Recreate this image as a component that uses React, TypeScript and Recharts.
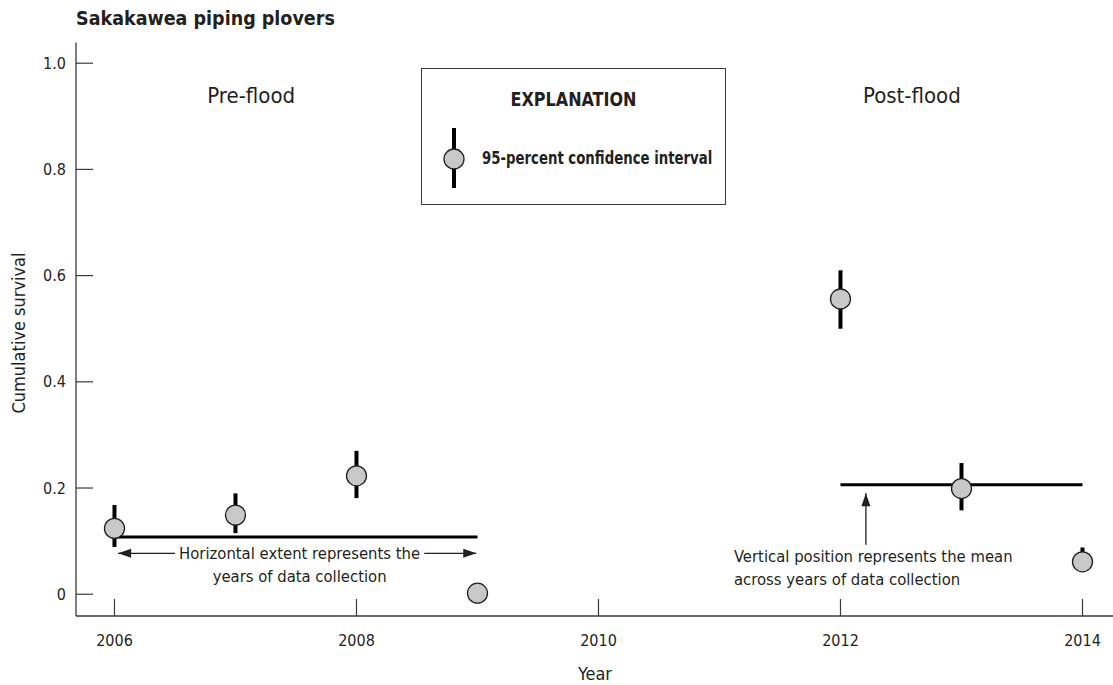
import React from "react"
import {
  ComposedChart,
  Scatter,
  ErrorBar,
  XAxis,
  YAxis,
  ReferenceLine,
  ReferenceDot,
  Legend,
} from "recharts"

// survival estimates
const years = [2006, 2007, 2008, 2009, 2012, 2013, 2014]
const survival = [0.124, 0.149, 0.223, 0.002, 0.556, 0.199, 0.061]
const ciLow = [0.089, 0.115, 0.181, 0.002, 0.5, 0.158, 0.045]
const ciHigh = [0.168, 0.19, 0.27, 0.002, 0.61, 0.247, 0.088]

// mean across years of data collection
const periodStart = [2006, 2012]
const periodEnd = [2009, 2014]
const periodMean = [0.108, 0.206]

const xTicks = [2006, 2008, 2010, 2012, 2014]
const yTicks = [0, 0.2, 0.4, 0.6, 0.8, 1.0]
const yTickLabels = ["0", "0.2", "0.4", "0.6", "0.8", "1.0"]

const xDomain = [2005.682, 2014.31]
const yDomain = [-0.041, 1.039]

const FONT = "'Liberation Sans Narrow', 'Arial Narrow', 'DejaVu Sans Condensed', sans-serif"
const INK = "#231f20"
const AXIS = "#3a3a3a"

const chartData = years.map((year, i) => ({
  year,
  surv: survival[i],
  err: [survival[i] - ciLow[i], ciHigh[i] - survival[i]],
}))

function YTickLeft({ x, y, payload }: any) {
  const idx = yTicks.indexOf(payload.value)
  return (
    <g>
      <line x1={x} x2={x + 17} y1={y} y2={y} stroke={AXIS} strokeWidth={1.2} />
      <text x={x - 10} y={y} textAnchor="end" dominantBaseline="central" fontSize={16} fill={INK} fontFamily={FONT}>
        {idx >= 0 ? yTickLabels[idx] : payload.value}
      </text>
    </g>
  )
}

function YTickRight({ x, y }: any) {
  return <line x1={x - 17} x2={x} y1={y} y2={y} stroke={AXIS} strokeWidth={1.2} />
}

function XTickBottom({ x, y, payload }: any) {
  return (
    <g>
      <line x1={x} x2={x} y1={y} y2={y - 17} stroke={AXIS} strokeWidth={1.2} />
      <text x={x} y={y + 30} textAnchor="middle" fontSize={16} fill={INK} fontFamily={FONT}>
        {payload.value}
      </text>
    </g>
  )
}

function XTickTop({ x, y }: any) {
  return <line x1={x} x2={x} y1={y} y2={y + 16} stroke={AXIS} strokeWidth={1.2} />
}

function Dot({ cx, cy }: any) {
  return <circle cx={cx} cy={cy} r={10} fill="#c8c8c8" stroke={INK} strokeWidth={1.3} />
}

// free text placed in data coordinates
function note(text: string, anchor: string, size: number) {
  return ({ cx, cy }: any) => (
    <text x={cx} y={cy} textAnchor={anchor} dominantBaseline="central" fontSize={size} fill={INK} fontFamily={FONT}>
      {text}
    </text>
  )
}

function arrowHead(dir: "left" | "right" | "up") {
  return ({ cx, cy }: any) => {
    let pts = ""
    if (dir === "left") pts = `${cx},${cy} ${cx + 13},${cy - 4.5} ${cx + 13},${cy + 4.5}`
    if (dir === "right") pts = `${cx},${cy} ${cx - 13},${cy - 4.5} ${cx - 13},${cy + 4.5}`
    if (dir === "up") pts = `${cx},${cy} ${cx - 4.5},${cy + 13} ${cx + 4.5},${cy + 13}`
    return <polygon points={pts} fill={INK} />
  }
}

function LegendBox() {
  return (
    <div
      style={{
        width: 305,
        height: 137,
        border: `1.3px solid ${AXIS}`,
        background: "#fff",
        boxSizing: "border-box",
        position: "relative",
        fontFamily: FONT,
        color: INK,
      }}
    >
      <div
        style={{
          position: "absolute",
          top: 18,
          left: 0,
          width: "100%",
          textAlign: "center",
          fontWeight: "bold",
          fontSize: 20,
          transform: "scaleX(0.89)",
        }}
      >
        EXPLANATION
      </div>
      <svg width={40} height={70} style={{ position: "absolute", left: 12, top: 55 }}>
        <line x1={20} x2={20} y1={4} y2={64} stroke="#000" strokeWidth={4} />
        <circle cx={20} cy={35} r={10} fill="#c8c8c8" stroke={INK} strokeWidth={1.3} />
      </svg>
      <div
        style={{
          position: "absolute",
          top: 78,
          left: 60,
          fontWeight: "bold",
          fontSize: 18,
          whiteSpace: "nowrap",
          transform: "scaleX(0.82)",
          transformOrigin: "left center",
        }}
      >
        95-percent confidence interval
      </div>
    </div>
  )
}

export default function App() {
  return (
    <div style={{ position: "absolute", left: 0, top: 0, width: 1113, height: 685, overflow: "hidden", background: "#fff" }}>
      <div
        style={{
          position: "absolute",
          left: 76,
          top: 6,
          fontFamily: FONT,
          fontWeight: "bold",
          fontSize: 20,
          color: INK,
          whiteSpace: "nowrap",
          transform: "scaleX(0.975)",
          transformOrigin: "left center",
        }}
      >
        Sakakawea piping plovers
      </div>
      <ComposedChart width={1130} height={685} data={chartData} margin={{ top: 42.5, right: 10, bottom: 0, left: 0 }}>
        <XAxis
          dataKey="year"
          type="number"
          domain={xDomain}
          allowDataOverflow
          ticks={xTicks}
          height={69}
          tickSize={0}
          tickMargin={0}
          tickLine={false}
          axisLine={{ stroke: AXIS, strokeWidth: 1.3 }}
          tick={<XTickBottom />}
          label={({ viewBox }: any) => (
            <text x={595} y={viewBox.y + 57} textAnchor="middle" dominantBaseline="central" fontSize={18} fill={INK} fontFamily={FONT}>
              Year
            </text>
          )}
        />
        <XAxis
          xAxisId="top"
          orientation="top"
          type="number"
          domain={xDomain}
          allowDataOverflow
          ticks={xTicks}
          height={0}
          tickSize={0}
          tickMargin={0}
          tickLine={false}
          axisLine={{ stroke: AXIS, strokeWidth: 1.3 }}
          tick={<XTickTop />}
        />
        <YAxis
          type="number"
          domain={yDomain}
          allowDataOverflow
          ticks={yTicks}
          width={76}
          tickSize={0}
          tickMargin={0}
          tickLine={false}
          axisLine={{ stroke: AXIS, strokeWidth: 1.3 }}
          tick={<YTickLeft />}
          label={() => (
            <text
              x={18}
              y={333}
              transform="rotate(-90, 18, 333)"
              textAnchor="middle"
              dominantBaseline="central"
              fontSize={18}
              fill={INK}
              fontFamily={FONT}
            >
              Cumulative survival
            </text>
          )}
        />
        <YAxis
          yAxisId="right"
          orientation="right"
          type="number"
          domain={yDomain}
          allowDataOverflow
          ticks={yTicks}
          width={0}
          tickSize={0}
          tickMargin={0}
          tickLine={false}
          axisLine={{ stroke: AXIS, strokeWidth: 1.3 }}
          tick={<YTickRight />}
        />

        <Legend
          verticalAlign="middle"
          align="center"
          content={() => <LegendBox />}
          wrapperStyle={{ position: "absolute", left: 421, top: 68, width: 305, height: 137 }}
        />

        {periodMean.map((m, i) => (
          <ReferenceLine
            key={`mean-${i}`}
            segment={[
              { x: periodStart[i], y: m },
              { x: periodEnd[i], y: m },
            ]}
            stroke="#000"
            strokeWidth={3}
          />
        ))}

        {/* horizontal-extent arrow */}
        <ReferenceLine segment={[{ x: 2006.03, y: 0.077 }, { x: 2006.5, y: 0.077 }]} stroke={INK} strokeWidth={1.3} />
        <ReferenceLine segment={[{ x: 2008.56, y: 0.077 }, { x: 2008.99, y: 0.077 }]} stroke={INK} strokeWidth={1.3} />
        <ReferenceDot x={2006.03} y={0.077} shape={arrowHead("left")} />
        <ReferenceDot x={2008.99} y={0.077} shape={arrowHead("right")} />
        <ReferenceDot x={2007.53} y={0.077} shape={note("Horizontal extent represents the", "middle", 16.5)} />
        <ReferenceDot x={2007.53} y={0.033} shape={note("years of data collection", "middle", 16.5)} />

        {/* vertical-position arrow */}
        <ReferenceLine segment={[{ x: 2012.21, y: 0.093 }, { x: 2012.21, y: 0.19 }]} stroke={INK} strokeWidth={1.3} />
        <ReferenceDot x={2012.21} y={0.19} shape={arrowHead("up")} />
        <ReferenceDot x={2011.12} y={0.0708} shape={note("Vertical position represents the mean", "start", 16.5)} />
        <ReferenceDot x={2011.12} y={0.027} shape={note("across years of data collection", "start", 16.5)} />

        <ReferenceDot x={2007.13} y={0.94} shape={note("Pre-flood", "middle", 22)} />
        <ReferenceDot x={2012.59} y={0.94} shape={note("Post-flood", "middle", 22)} />

        <Scatter dataKey="surv" shape={<Dot />} isAnimationActive={false} legendType="none">
          <ErrorBar dataKey="err" direction="y" width={0} stroke="#000" strokeWidth={4} isAnimationActive={false} />
        </Scatter>
      </ComposedChart>
    </div>
  )
}
